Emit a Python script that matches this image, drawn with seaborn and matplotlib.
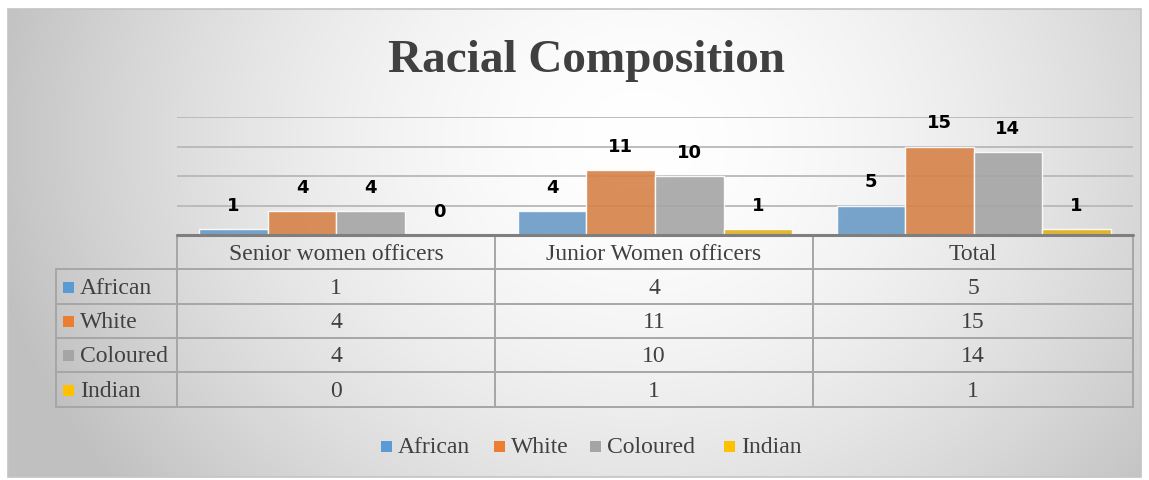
import numpy as np
import pandas as pd
import matplotlib
matplotlib.use("Agg")
import matplotlib.pyplot as plt
from matplotlib.patches import Rectangle
import seaborn as sns

# ---- data ----
categories = ["Senior women officers", "Junior Women officers", "Total"]
races = ["African", "White", "Coloured", "Indian"]
african = [1, 4, 5]
white = [4, 11, 15]
coloured = [4, 10, 14]
indian = [0, 1, 1]
colors = ["#5B9BD5", "#ED7D31", "#A5A5A5", "#FFC000"]
title = "Racial Composition"

series = {"African": african, "White": white, "Coloured": coloured, "Indian": indian}
df = pd.DataFrame([
    {"Category": c, "Race": r, "Count": series[r][i]}
    for r in races for i, c in enumerate(categories)
])

W, H = 1149, 481
sns.set_theme(style="white")
fig = plt.figure(figsize=(W / 100, H / 100), dpi=100)
fig.patch.set_facecolor("white")

# background / pixel axes
bg = fig.add_axes([0, 0, 1, 1])
bg.set_xlim(0, W)
bg.set_ylim(H, 0)
bg.axis("off")

fx0, fy0, fx1, fy1 = 8, 10, 1141, 478
yy, xx = np.mgrid[fy0:fy1, fx0:fx1]
d = np.sqrt(((xx - 640) / 1.0) ** 2 + ((yy - 140) / 0.85) ** 2)
v = 255 - 56 * np.clip(d / 620, 0, 1.3) ** 1.7
v = np.clip(v, 192, 255) / 255.0
img = np.dstack([v, v, v])
bg.imshow(img, extent=(fx0, fx1, fy1, fy0), aspect="auto", zorder=0, interpolation="bilinear")
bg.add_patch(Rectangle((fx0, fy0), fx1 - fx0, fy1 - fy0, fill=False, edgecolor="#c4c4c4", lw=1.2, zorder=1))

serif = ["Liberation Serif", "DejaVu Serif"]
txtc = "#404040"

bg.text(586, 61, title, ha="center", va="center", fontsize=34, fontweight="bold",
        family=serif, color=txtc, zorder=3)

# ---- table ----
px0, px1 = 177, 1133
col_x = [177, 495, 813, 1133]
row_y = [236, 270, 305, 339, 373, 408]
lx0 = 56
gc = "#a6a6a6"
lw = 1.4
for x in col_x:
    bg.plot([x, x], [row_y[0], row_y[-1]], color=gc, lw=lw, zorder=2)
bg.plot([lx0, lx0], [row_y[1], row_y[-1]], color=gc, lw=lw, zorder=2)
for y in row_y[1:]:
    bg.plot([lx0, px1], [y, y], color=gc, lw=lw, zorder=2)
fs = 17
for j, c in enumerate(categories):
    cx = (col_x[j] + col_x[j + 1]) / 2
    bg.text(cx, (row_y[0] + row_y[1]) / 2 + 1, c, ha="center", va="center",
            fontsize=fs, family=serif, color=txtc, zorder=3)
for i, r in enumerate(races):
    cy = (row_y[i + 1] + row_y[i + 2]) / 2 + 1
    bg.add_patch(Rectangle((63, cy - 6), 11, 11, facecolor=colors[i], edgecolor="none", zorder=3))
    bg.text(80, cy, r, ha="left", va="center", fontsize=fs, family=serif, color=txtc, zorder=3)
    for j in range(len(categories)):
        cx = (col_x[j] + col_x[j + 1]) / 2
        bg.text(cx, cy, str(series[r][j]), ha="center", va="center",
                fontsize=fs, family=serif, color=txtc, zorder=3)

# ---- legend ----
leg_x = [381, 494, 590, 724]
for i, r in enumerate(races):
    bg.add_patch(Rectangle((leg_x[i], 442), 11, 11, facecolor=colors[i], edgecolor="none", zorder=3))
    bg.text(leg_x[i] + 17, 448, r, ha="left", va="center", fontsize=fs, family=serif,
            color=txtc, zorder=3)

# ---- bar axes ----
ax = fig.add_axes([px0 / W, 1 - row_y[0] / H, (px1 - px0) / W, (row_y[0] - 118) / H])
ax.patch.set_alpha(0)
for y in [5, 10, 15, 20]:
    ax.axhline(y, color="#b8b8b8", lw=1.3, zorder=0)
sns.barplot(data=df, x="Category", y="Count", hue="Race", hue_order=races, order=categories,
            palette=colors, width=0.86, gap=0, ax=ax, legend=False, alpha=0.9,
            edgecolor=(1, 1, 1, 0.5), linewidth=1, zorder=2)
for cont in ax.containers:
    ax.bar_label(cont, padding=11, fontsize=13, fontweight="bold", color="black",
                 family=["DejaVu Sans"])
ax.set_ylim(0, 20)
ax.set_xlim(-0.5, 2.5)
ax.set_xlabel("")
ax.set_ylabel("")
ax.set_xticks([])
ax.set_yticks([])
for s in ax.spines.values():
    s.set_visible(False)
ax.axhline(0, color="#7f7f7f", lw=2.2, zorder=3, clip_on=False)

fig.savefig("out.png", dpi=100, facecolor=fig.get_facecolor())
